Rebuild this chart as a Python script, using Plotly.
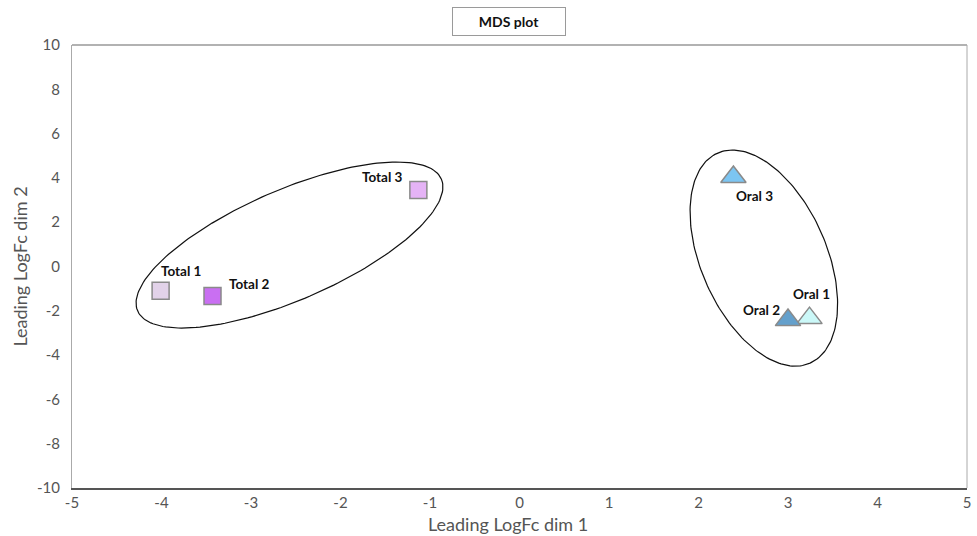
import numpy as np
import plotly.graph_objects as go

# ---- data ----
total_names = ["Total 1", "Total 2", "Total 3"]
total_x = [-4.01, -3.43, -1.13]
total_y = [-1.10, -1.33, 3.45]
total_colors = ["#e2d2e9", "#c96ff2", "#e5b3f6"]

oral_names = ["Oral 1", "Oral 2", "Oral 3"]
oral_x = [3.24, 3.00, 2.39]
oral_y = [-2.33, -2.42, 4.04]
oral_colors = ["#cbf8f8", "#64a0cc", "#7cc5f2"]

x_ticks = list(range(-5, 6))
y_ticks = list(range(-10, 11, 2))

# label offsets (pixels) for each point
total_label_shift = [(20, 20), (37, 12), (-36, 13)]
oral_label_shift = [(2, 24), (-27, 10), (21, -19)]

# ellipses: center, semi-axis vectors (data units)
ellipses = [
    dict(c=(-2.57, 0.97), A=(1.697, 2.976), B=(-0.243, 2.280)),
    dict(c=(2.73, 0.38), A=(0.517, -4.742), B=(0.642, 1.149)),
]

fig = go.Figure()

t = np.linspace(0, 2 * np.pi, 200)
for e in ellipses:
    ex = e["c"][0] + e["A"][0] * np.cos(t) + e["B"][0] * np.sin(t)
    ey = e["c"][1] + e["A"][1] * np.cos(t) + e["B"][1] * np.sin(t)
    fig.add_trace(go.Scatter(x=ex, y=ey, mode="lines",
                             line=dict(color="#111111", width=1.2),
                             hoverinfo="skip", showlegend=False))

fig.add_trace(go.Scatter(
    x=total_x, y=total_y, mode="markers", showlegend=False,
    marker=dict(symbol="square", size=17, color=total_colors,
                line=dict(color="#8a8a8a", width=1.5))))
fig.add_trace(go.Scatter(
    x=oral_x, y=oral_y, mode="markers", showlegend=False,
    marker=dict(symbol="triangle-up", size=22, color=oral_colors,
                line=dict(color="#8a8a8a", width=1.5))))

lab_font = dict(family="Lato, Open Sans, sans-serif", size=13.5, color="#111111")
for names, xs, ys, shifts in [(total_names, total_x, total_y, total_label_shift),
                              (oral_names, oral_x, oral_y, oral_label_shift)]:
    for n, x, y, (dx, dy) in zip(names, xs, ys, shifts):
        fig.add_annotation(x=x, y=y, text="<b>%s</b>" % n, showarrow=False,
                           xshift=dx, yshift=dy, font=lab_font)

fig.add_annotation(xref="paper", yref="paper", x=0.4878, y=1.0,
                   yanchor="bottom", yshift=9,
                   text="<b>MDS plot</b>", showarrow=False,
                   font=dict(family="Lato, sans-serif", size=14, color="#111111"),
                   bordercolor="#9a9a9a", borderwidth=1, borderpad=5,
                   bgcolor="white", width=102)

tick_font = dict(family="Lato, Open Sans, sans-serif", size=15, color="#555555")
title_font = dict(family="Lato, Open Sans, sans-serif", size=18, color="#555555")

fig.add_annotation(xref="paper", yref="paper", x=0.4866, y=0.0,
                   yanchor="middle", yshift=-36, showarrow=False,
                   text="Leading LogFc dim 1", font=title_font)

fig.update_xaxes(range=[-5, 5], tickvals=x_ticks, ticktext=[str(v) for v in x_ticks],
                 showgrid=False, zeroline=False, showline=True,
                 linecolor="#555555", linewidth=2, mirror=False,
                 ticks="", tickfont=tick_font)
fig.update_yaxes(range=[-10, 10], tickvals=y_ticks, ticktext=[str(v) for v in y_ticks],
                 showgrid=False, zeroline=False, showline=True,
                 linecolor="#aaaaaa", linewidth=1, mirror=False,
                 ticks="", tickfont=tick_font, ticklabelstandoff=8,
                 title=dict(text="Leading LogFc dim 2", font=title_font, standoff=4))

# frame lines on top/right
fig.add_shape(type="line", xref="paper", yref="paper", x0=0, x1=1, y0=1, y1=1,
              line=dict(color="#999999", width=1.5))
fig.add_shape(type="line", xref="paper", yref="paper", x0=1, x1=1, y0=0, y1=1,
              line=dict(color="#aaaaaa", width=1))

fig.update_layout(width=977, height=536,
                  margin=dict(l=72, r=6, t=45, b=48),
                  plot_bgcolor="white", paper_bgcolor="white")

fig.write_html("out.html")
